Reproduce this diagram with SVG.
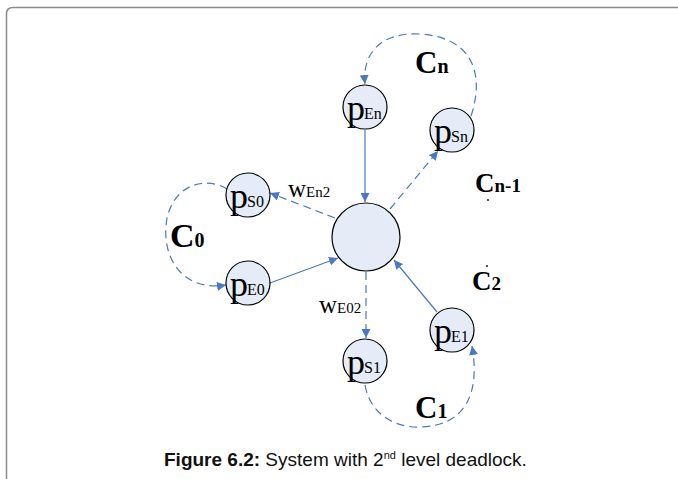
<svg xmlns="http://www.w3.org/2000/svg" width="678" height="479" viewBox="0 0 678 479">
<style>
.node{fill:#e6ecf7;stroke:#000;stroke-width:1.2}
.p{font-family:"Liberation Serif",serif;font-size:36px;fill:#000}
.sub{font-family:"Liberation Serif",serif;font-size:16px;fill:#000}
.c{font-family:"Liberation Serif",serif;font-weight:bold;fill:#000}
.w{font-family:"Liberation Serif",serif;fill:#000}
.solid{stroke:#4a78c4;stroke-width:1.2;fill:none}
.dash{stroke:#4a78c4;stroke-width:1.2;fill:none;stroke-dasharray:8 5}
.cap{font-family:"Liberation Sans",Arial,sans-serif;font-size:19px;fill:#111}
</style>
<defs>
<marker id="ah" viewBox="0 0 10 10" refX="10" refY="5" markerWidth="9" markerHeight="9" markerUnits="userSpaceOnUse" orient="auto">
<path d="M0,0 L10,5 L0,10 z" fill="#4a78c4"/>
</marker>
</defs>
<rect width="678" height="479" fill="#fff"/>
<path d="M6.5 479 L6.5 14 Q6.5 7.5 13 7.5 L678 7.5" fill="none" stroke="#8a8a8a" stroke-width="1.5"/>

<g id="connectors">
<line class="solid" x1="365" y1="130" x2="365" y2="202" marker-end="url(#ah)"/>
<line class="dash" x1="390" y1="209" x2="438" y2="151" marker-end="url(#ah)"/>
<line class="dash" x1="335" y1="218" x2="270" y2="193" marker-end="url(#ah)"/>
<line class="solid" x1="270" y1="283" x2="338" y2="258" marker-end="url(#ah)"/>
<line class="dash" x1="366" y1="272" x2="366" y2="338" marker-end="url(#ah)"/>
<line class="solid" x1="437" y1="312" x2="394" y2="260" marker-end="url(#ah)"/>
<path class="dash" d="M471 116 C483 80 478 38 420 34 C382 32 362 52 365 84" marker-end="url(#ah)"/>
<path class="dash" d="M227 189 C210 178 176 180 167 218 C160 258 183 292 226 285" marker-end="url(#ah)"/>
<path class="dash" d="M365 385 C370 414 395 428 420 427 C462 426 481 398 472 346" marker-end="url(#ah)"/>
</g>

<g id="center"><circle class="node" cx="366" cy="237" r="34"/></g>

<g id="pEn"><circle class="node" cx="365" cy="107" r="22"/><text class="p" x="347" y="120">p</text><text class="sub" x="364" y="119">En</text></g>
<g id="pSn"><circle class="node" cx="452" cy="130" r="22"/><text class="p" x="434" y="143">p</text><text class="sub" x="451" y="142">Sn</text></g>
<g id="pS0"><circle class="node" cx="248" cy="195" r="22"/><text class="p" x="230" y="208">p</text><text class="sub" x="247" y="207">S0</text></g>
<g id="pE0"><circle class="node" cx="248" cy="283" r="22"/><text class="p" x="230" y="296">p</text><text class="sub" x="247" y="295">E0</text></g>
<g id="pS1"><circle class="node" cx="365" cy="361" r="22"/><text class="p" x="347" y="374">p</text><text class="sub" x="364" y="373">S1</text></g>
<g id="pE1"><circle class="node" cx="452" cy="330" r="22"/><text class="p" x="434" y="343">p</text><text class="sub" x="451" y="342">E1</text></g>

<g id="labels">
<text class="c" x="415" y="73" font-size="31">C<tspan font-size="20">n</tspan></text>
<text class="c" x="475" y="192" font-size="27">C<tspan font-size="19">n-1</tspan></text>
<text class="c" x="170" y="247" font-size="34">C<tspan font-size="20">0</tspan></text>
<text class="c" x="472" y="290" font-size="27">C<tspan font-size="19">2</tspan></text>
<text class="c" x="415" y="418" font-size="31">C<tspan font-size="20">1</tspan></text>
<text class="w" x="288" y="197" font-size="25">w<tspan font-size="15">En2</tspan></text>
<text class="w" x="319" y="313" font-size="25">w<tspan font-size="15">E02</tspan></text>
<circle cx="488" cy="200" r="0.9" fill="#000"/>
<circle cx="487" cy="266" r="0.9" fill="#000"/>
</g>

<text class="cap" x="164" y="466"><tspan font-weight="bold">Figure 6.2:</tspan> System with 2<tspan font-size="11" dy="-7">nd</tspan><tspan dy="7"> level deadlock.</tspan></text>
</svg>
